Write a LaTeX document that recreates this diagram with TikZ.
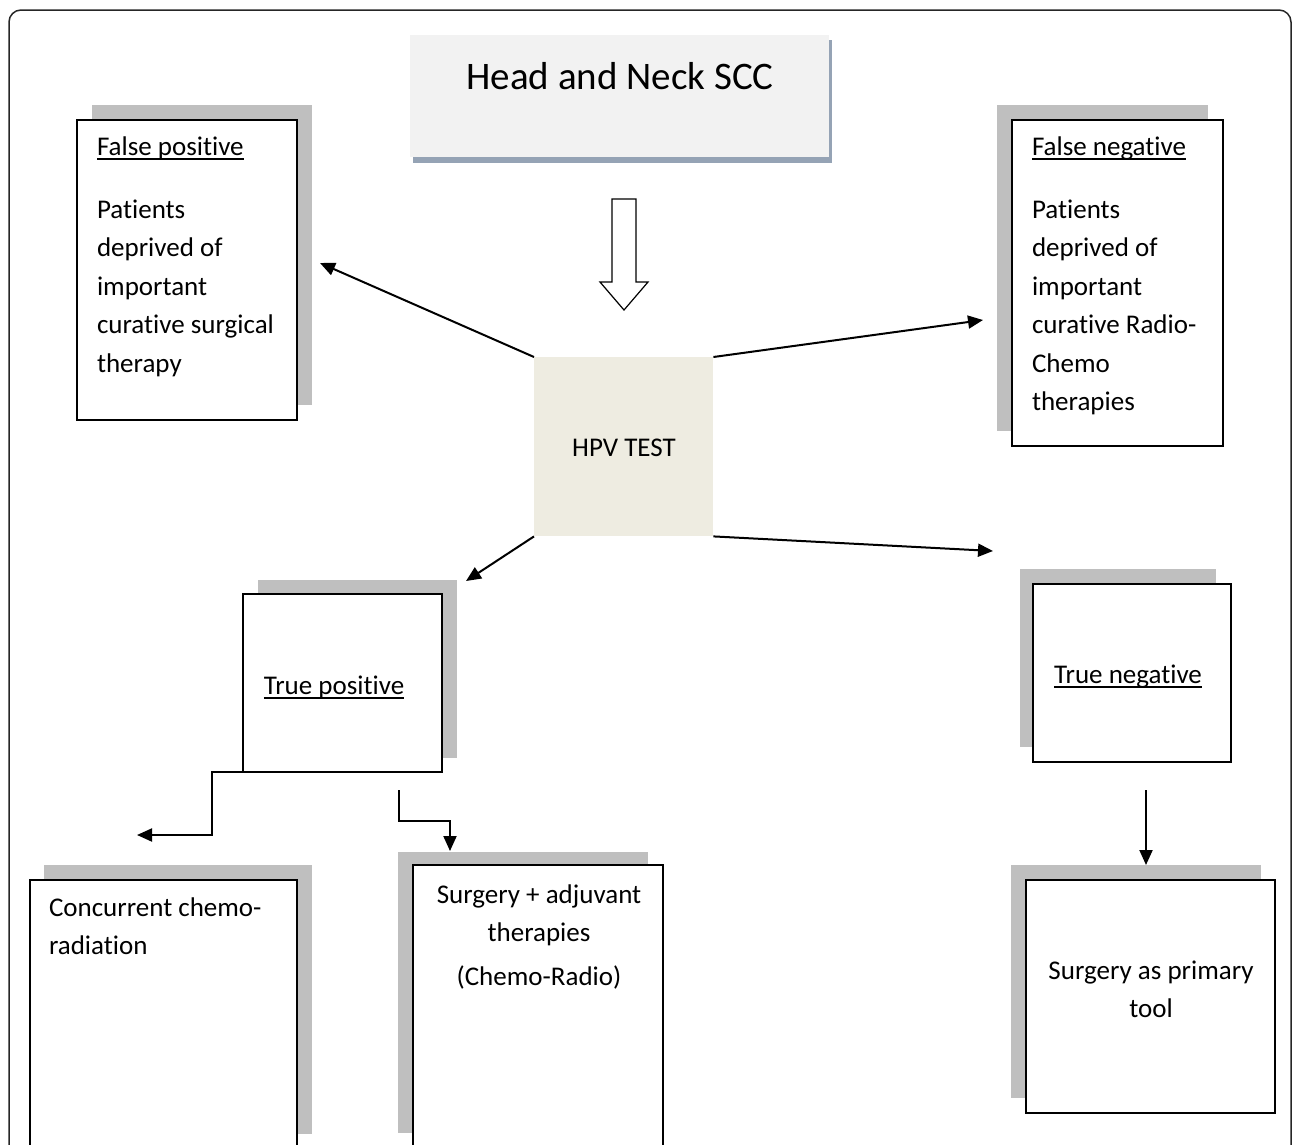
\documentclass[tikz,border=0pt]{standalone}
\usepackage{fontspec}
\setmainfont[Ligatures={NoCommon}]{Carlito}
\usetikzlibrary{arrows.meta}
\definecolor{shadowgray}{HTML}{BFBFBF}
\definecolor{titlefill}{HTML}{F2F2F2}
\definecolor{titleshadow}{HTML}{95A3B5}
\definecolor{hpvfill}{HTML}{EEECE1}
\newsavebox\myulbox
\newcommand\myul[1]{\sbox\myulbox{#1}\rlap{\rule[-5pt]{\wd\myulbox}{1.8pt}}\usebox\myulbox}
\tikzset{
  shadowbox/.style={fill=shadowgray, draw=none, inner sep=0pt, outer sep=0pt, anchor=north west},
  mainbox/.style={fill=white, draw=black, line width=1.8pt, inner sep=0pt, outer sep=0pt, anchor=north west},
  txt/.style={inner sep=0pt, outer sep=0pt, font=\fontsize{27}{38.5}\selectfont},
  conn/.style={line width=2pt, -{Triangle[length=15pt,width=13pt]}},
}
\begin{document}
\begin{tikzpicture}[x=1pt,y=-1pt]
\useasboundingbox (0,0) rectangle (1293,1144);
\clip (0,0) rectangle (1293,1144);
% outer frame
\draw[line width=1.5pt, draw=black!85, rounded corners=12pt] (9,1170) -- (9,10) -- (1291,10) -- (1291,1170);

% title
\node[fill=titleshadow, draw=none, inner sep=0pt, anchor=north west, minimum width=419pt, minimum height=123pt] (titles) at (413,40) {};
\node[fill=titlefill, draw=none, inner sep=0pt, anchor=north west, minimum width=419pt, minimum height=122pt] (title) at (410,35) {};
\node[txt, anchor=base, font=\fontsize{39}{45}\selectfont] (titletxt) at (620,89) {Head and Neck SCC};

% block arrow
\draw[line width=1.2pt, fill=white] (612,199) -- (636,199) -- (636,282) -- (648,282) -- (624,310) -- (600,282) -- (612,282) -- cycle;

% HPV test
\node[fill=hpvfill, draw=none, inner sep=0pt, anchor=north west, minimum width=179pt, minimum height=179pt] (hpv) at (534,357) {};
\node[txt, anchor=base] (hpvtxt) at (624,456) {HPV TEST};

% False positive
\node[shadowbox, minimum width=220pt, minimum height=300pt] (fps) at (92,105) {};
\node[mainbox, minimum width=220pt, minimum height=300pt] (fp) at (77,120) {};
\node[txt, anchor=base west] (fph) at (97,155) {\myul{False positive}};
\node[txt, anchor=base west, text width=200pt, align=flush left] (fpb) at (97,218) {Patients\\deprived of\\important\\curative surgical\\therapy};

% False negative
\node[shadowbox, minimum width=211pt, minimum height=326pt] (fns) at (997,105) {};
\node[mainbox, minimum width=211pt, minimum height=326pt] (fn) at (1012,120) {};
\node[txt, anchor=base west] (fnh) at (1032,155) {\myul{False negative}};
\node[txt, anchor=base west, text width=190pt, align=flush left] (fnb) at (1032,218) {Patients\\deprived of\\important\\curative Radio-\\Chemo\\therapies};

% True positive
\node[shadowbox, minimum width=199pt, minimum height=178pt] (tps) at (258,580) {};
\node[mainbox, minimum width=199pt, minimum height=178pt] (tp) at (243,594) {};
\node[txt, anchor=base] (tptxt) at (334,694) {\myul{True positive}};

% True negative
\node[shadowbox, minimum width=196pt, minimum height=178pt] (tns) at (1020,569) {};
\node[mainbox, minimum width=198pt, minimum height=178pt] (tn) at (1033,584) {};
\node[txt, anchor=base] (tntxt) at (1128,683) {\myul{True negative}};

% Concurrent chemo-radiation
\node[shadowbox, minimum width=268pt, minimum height=269pt] (ccs) at (44,865) {};
\node[mainbox, minimum width=267pt, minimum height=290pt] (cc) at (30,880) {};
\node[txt, anchor=base west, text width=250pt, align=flush left] (cctxt) at (49,916) {Concurrent chemo-\\radiation};

% Surgery + adjuvant
\node[shadowbox, minimum width=250pt, minimum height=281pt] (sas) at (398,852) {};
\node[mainbox, minimum width=250pt, minimum height=300pt] (sa) at (413,865) {};
\node[txt, anchor=base, text width=240pt, align=flush center] (satxt) at (539,903) {Surgery + adjuvant\\therapies\\[5.5pt](Chemo-Radio)};

% Surgery as primary tool
\node[shadowbox, minimum width=250pt, minimum height=233pt] (sps) at (1011,865) {};
\node[mainbox, minimum width=249pt, minimum height=233pt] (sp) at (1026,880) {};
\node[txt, anchor=base, text width=240pt, align=flush center] (sptxt) at (1151,979) {Surgery as primary\\tool};

% connector end points
\coordinate (fpin) at (320,263);
\coordinate (fnin) at (983,320);
\coordinate (tpin) at (466,581);
\coordinate (tnin) at (993,551);
\coordinate (tnout) at (1146,790);
\coordinate (spin) at (1146,865);
\coordinate (tpout1) at (263,772);
\coordinate (ccin) at (137,835);
\coordinate (tpout2) at (399,790);
\coordinate (sain) at (450,851);

\draw[conn] (hpv.north west) -- (fpin);
\draw[conn] (hpv.north east) -- (fnin);
\draw[conn] (hpv.south west) -- (tpin);
\draw[conn] (hpv.south east) -- (tnin);
\draw[conn] (tnout) -- (spin);
\draw[conn] (tpout1) -- (212,772) -- (212,835) -- (ccin);
\draw[conn] (tpout2) -- (399,821) -- (450,821) -- (sain);
\end{tikzpicture}
\end{document}
